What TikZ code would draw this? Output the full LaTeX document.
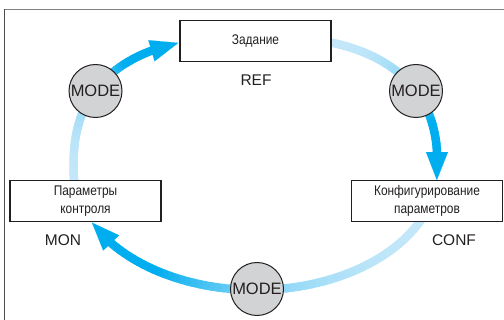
\documentclass[tikz,border=0pt]{standalone}
\usepackage{fontspec}
\setmainfont{Liberation Sans}
\newfontfamily\narrowsf[FakeStretch=0.85]{Liberation Sans}
\usetikzlibrary{arrows.meta}
\definecolor{flowcyan}{RGB}{0,174,239}
\definecolor{flowpale}{RGB}{196,231,249}
\definecolor{modegray}{RGB}{210,211,213}
\definecolor{ink}{RGB}{35,31,32}
\definecolor{rulegray}{RGB}{128,128,128}
\tikzset{
  declare function={
    ringx(\t)=255.5+182*(sin(\t)<0 ? cos(\t) : (cos(\t)<0 ? -1 : 1)*pow(abs(cos(\t))+0.00001,0.8));
    ringy(\t)=(sin(\t)<0 ? 170-120*sin(\t) : 170-133.6*pow(abs(sin(\t))+0.00001,0.8));
  },
  band/.style={draw=#1,line width=8.5pt,line cap=round},
  flowarrow/.style={draw=flowcyan,line width=8.5pt,
    -{Triangle[length=28pt,width=22pt,line width=0.1pt]}},
  stagebox/.style={draw=ink,fill=white,line width=1.3pt,minimum width=151pt,
    minimum height=41pt,inner sep=0pt,align=center,text=ink,
    font=\narrowsf\fontsize{14}{18}\selectfont},
  modedisk/.style={circle,draw=ink,fill=modegray,line width=1pt,minimum size=53pt,
    inner sep=0pt,text=ink,font=\fontsize{16.5}{18}\selectfont},
  tag/.style={text=ink,font=\fontsize{15.5}{18}\selectfont},
}
\begin{document}
\begin{tikzpicture}[x=1pt,y=-1pt]
  \useasboundingbox (0,0) rectangle (504,320);
  % frame
  \draw[rulegray,line width=1.2pt] (4,9.8) -- (504,9.8);
  \draw[ink!80,line width=1.2pt] (4.6,9.2) -- (4.6,320);

  % the three bands, pale at the start and full cyan towards the head
  \foreach \ta/\tb in {188/120,72/5,338/218}{
    \foreach \i in {0,...,59}{
      \pgfmathsetmacro\tone{\ta+(\tb-\ta)*\i/60}
      \pgfmathsetmacro\ttwo{\ta+(\tb-\ta)*(\i+1)/60}
      \pgfmathsetmacro\pct{100*min(1,(\i+0.5)/51)^2.5}
      \draw[band=flowcyan!\pct!flowpale] ({ringx(\tone)},{ringy(\tone)}) -- ({ringx(\ttwo)},{ringy(\ttwo)});
    }
  }
  \coordinate (b1) at ({ringx(120)},{ringy(120)});
  \coordinate (h1) at ({ringx(110)},{ringy(110)});
  \coordinate (b2) at ({ringx(5)},{ringy(5)});
  \coordinate (h2) at ({ringx(-4.8)},{ringy(-4.8)});
  \coordinate (b3) at ({ringx(218)},{ringy(218)});
  \coordinate (h3) at ({ringx(206)},{ringy(206)});
  \draw[flowarrow] (b1) -- (h1);
  \draw[flowarrow] (b2) -- (h2);
  \draw[flowarrow] (b3) -- (h3);

  % stages
  \node[stagebox] (ref) at (255.5,41) {Задание};
  \node[stagebox] (mon) at (85.5,201) {Параметры\\контроля};
  \node[stagebox] (conf) at (427,201) {Конфигурирование\\параметров};
  \node[tag] (reftag) at (256,80) {REF};
  \node[tag] (montag) at (63,240) {MON};
  \node[tag] (conftag) at (454,240) {CONF};

  % mode keys
  \node[modedisk] (mode1) at (95.5,91) {MODE};
  \node[modedisk] (mode2) at (416,91) {MODE};
  \node[modedisk] (mode3) at (257,289) {MODE};
\end{tikzpicture}
\end{document}
